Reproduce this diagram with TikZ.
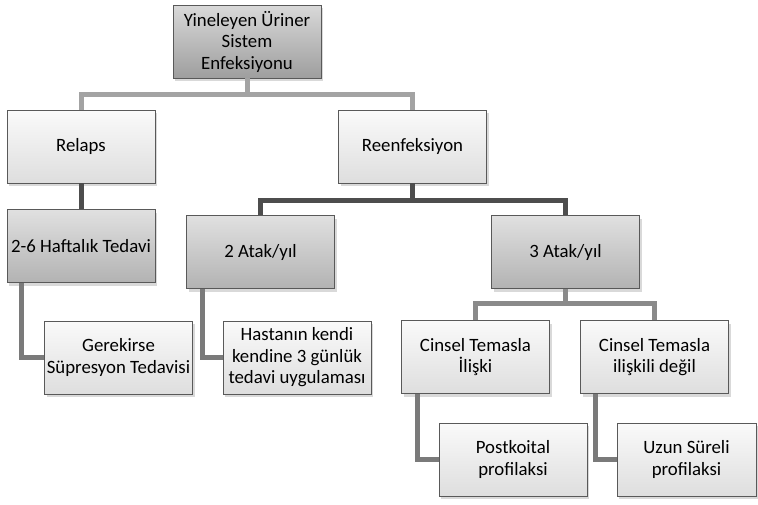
\documentclass[tikz,border=0pt]{standalone}
\usepackage{fontspec}
\setmainfont{Carlito}
\usetikzlibrary{shadows,calc}
\definecolor{acikhat}{HTML}{A3A3A3}
\definecolor{koyuhat}{HTML}{4D4D4D}
\definecolor{ortahat}{HTML}{8A8A8A}
\definecolor{incehat}{HTML}{7A7A7A}
\tikzset{
  kutu/.style={draw=black!65,line width=0.8pt,minimum width=148pt,minimum height=73pt,
    inner sep=1pt,align=center,font=\fontsize{18.8}{21.5}\selectfont,
    drop shadow={opacity=0.3,shadow xshift=2pt,shadow yshift=-3pt}},
  koyukutu/.style={kutu,top color=black!15,bottom color=black!38},
  ortakutu/.style={kutu,top color=black!12,bottom color=black!30},
  acikkutu/.style={kutu,top color=black!2,bottom color=black!13},
  hat/.style={line width=5pt,line join=miter}
}
\begin{document}
\begin{tikzpicture}[x=1pt,y=-1pt]
\useasboundingbox (0,0) rectangle (758,504);
%Kök
	\node[koyukutu] (kok) at (247,41.5)
		{Yineleyen Üriner\\Sistem\\Enfeksiyonu};
%Birinci düzey
	\node[acikkutu] (relaps) at (81,146.5)
		{Relaps};
	\node[acikkutu] (reenf) at (412.5,146.5)
		{Reenfeksiyon};
%İkinci düzey
	\node[ortakutu] (haftalik) at (81,246)
		{2-6 Haftalık Tedavi};
	\node[ortakutu] (atakiki) at (260.5,252)
		{2 Atak/yıl};
	\node[ortakutu] (atakuc) at (565.5,252)
		{3 Atak/yıl};
%Üçüncü düzey
	\node[acikkutu] (gerek) at (118.5,357.5)
		{Gerekirse\\Süpresyon Tedavisi};
	\node[acikkutu] (hasta) at (297,357.5)
		{Hastanın kendi\\kendine 3 günlük\\tedavi uygulaması};
	\node[acikkutu] (cinselbir) at (475.5,357)
		{Cinsel Temasla\\İlişki};
	\node[acikkutu] (cinseliki) at (654.5,357)
		{Cinsel Temasla\\ilişkili değil};
%Dördüncü düzey
	\node[acikkutu] (postkoital) at (513,459.5)
		{Postkoital\\profilaksi};
	\node[acikkutu,minimum width=139pt] (uzun) at (686.5,459.5)
		{Uzun Süreli\\profilaksi};
%Bağlantılar
	\coordinate (bir) at (247,94);
	\coordinate (iki) at (412.5,200);
	\coordinate (uc) at (565.5,303);
	\draw[hat,acikhat] (kok.south) -- (bir);
	\draw[hat,acikhat] (relaps.north) |- (bir) -| (reenf.north);
	\draw[hat,koyuhat] (relaps.south) -- (haftalik.north);
	\draw[hat,koyuhat] (reenf.south) -- (iki);
	\draw[hat,koyuhat] (atakiki.north) |- (iki) -| (atakuc.north);
	\draw[hat,ortahat] (atakuc.south) -- (uc);
	\draw[hat,ortahat] (cinselbir.north) |- (uc) -| (cinseliki.north);
%Yan dallar
	\draw[hat,incehat] ($(haftalik.south west)+(15,0)$) |- (gerek.west);
	\draw[hat,incehat] ($(atakiki.south west)+(16,0)$) |- (hasta.west);
	\draw[hat,incehat] ($(cinselbir.south west)+(16,0)$) |- (postkoital.west);
	\draw[hat,incehat] ($(cinseliki.south west)+(15,0)$) |- (uzun.west);
\end{tikzpicture}
\end{document}
